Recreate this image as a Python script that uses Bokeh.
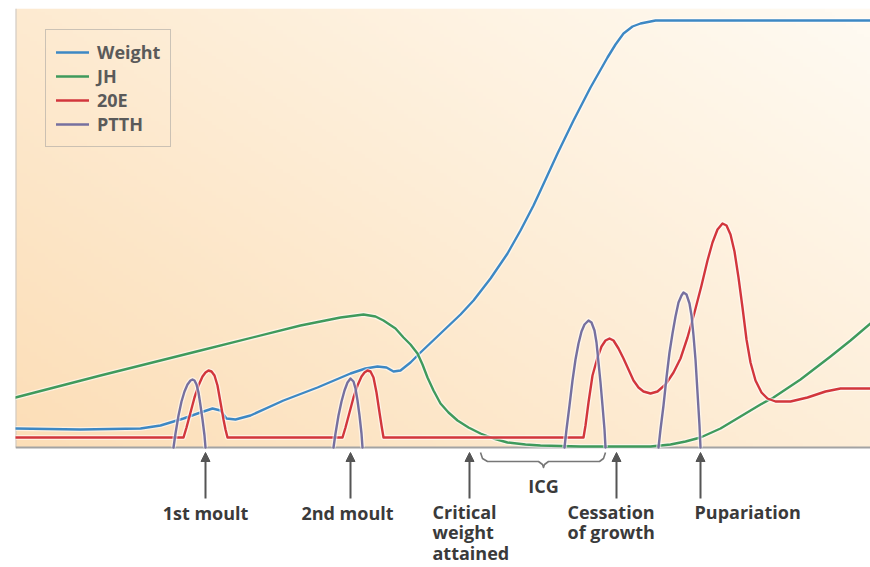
import numpy as np
from bokeh.plotting import figure
from bokeh.models import Range1d, Legend, LegendItem, Arrow, NormalHead, ColumnDataSource
from bokeh.embed import file_html
from bokeh.resources import INLINE
from bokeh.core.properties import value

nan = float("nan")

# ---------------- data (schematic time axis, arbitrary level units) ----------------
weight_t = [0, 65, 125, 145, 168, 185, 197, 205, 211, 220, 235, 268, 302, 335, 350, 362,
            371, 378, 385, 395, 405, 425, 445, 458, 475, 492, 505, 518, 525, 542, 558,
            575, 592, 600, 608, 617, 625, 640, 655, 855]
weight_v = [19, 18, 19, 22, 29, 35, 39, 37, 29, 28, 32, 47, 60, 74, 79, 81,
            80, 76, 77, 85, 95, 114, 133, 147, 169, 194, 217, 242, 257, 294, 327,
            360, 390, 403, 414, 421, 424, 427, 427, 427]

jh_t = [0, 85, 185, 285, 325, 348, 360, 368, 380, 388, 395, 402, 407, 412, 418, 425,
        433, 442, 453, 465, 478, 492, 510, 525, 565, 635, 655, 670, 685, 705, 725,
        745, 758, 785, 815, 835, 855]
jh_v = [50, 72, 97, 122, 130, 133, 131, 127, 119, 110, 103, 94, 83, 70, 57, 44,
        35, 27, 20, 14, 9, 5, 3, 2, 1, 1, 3, 6, 10, 19, 31,
        43, 50, 68, 91, 107, 124]

e20_t = [0, 168, 171, 175, 179, 183, 187, 190, 193, 196, 199, 202, 205, 208, 210, 212,
         327, 330, 334, 338, 342, 346, 349, 352, 355, 358, 361, 364, 366, 368,
         568, 570, 573, 577, 582, 586, 590, 594, 598, 603, 608, 613, 618, 623, 628, 635,
         642, 650, 658, 665, 672, 679, 686, 692, 697, 702, 707, 711, 715, 719, 723, 727,
         731, 735, 740, 746, 752, 760, 775, 792, 810, 825, 855]
e20_v = [10, 10, 20, 35, 50, 62, 71, 75, 77, 76, 72, 62, 45, 28, 18, 10,
         10, 20, 35, 50, 62, 71, 75, 77, 76, 70, 55, 35, 22, 10,
         10, 22, 45, 72, 90, 101, 107, 109, 107, 99, 89, 78, 67, 60, 56, 54,
         56, 63, 75, 89, 110, 135, 162, 187, 205, 218, 224, 222, 213, 196, 170, 140,
         108, 85, 67, 55, 49, 46, 46, 50, 56, 59, 59]

ptth_t = [158, 160, 163, 166, 169, 172, 175, 177, 179, 181, 183, 185, 187, 189, 190, nan,
          318, 320, 323, 326, 329, 332, 335, 338, 340, 342, 344, 346, 347, nan,
          549, 551, 554, 557, 560, 563, 566, 569, 573, 576, 579, 581, 583, 585, 587, 589, 590, nan,
          643, 645, 648, 651, 654, 657, 660, 663, 666, 668, 671, 674, 676, 678, 680, 682, 684, 685]
ptth_v = [0, 14, 32, 46, 56, 63, 67, 68, 67, 63, 55, 42, 28, 12, 0, nan,
          0, 14, 32, 46, 57, 65, 69, 66, 59, 47, 32, 14, 0, nan,
          0, 18, 42, 67, 88, 104, 116, 123, 127, 125, 117, 105, 85, 65, 42, 18, 0, nan,
          0, 18, 42, 70, 95, 114, 131, 145, 152, 155, 153, 144, 132, 112, 88, 55, 22, 0]

series_names = ["Weight", "JH", "20E", "PTTH"]
series_colors = ["#3d88c4", "#3f9a5c", "#d2363c", "#76709f"]

event_t = [190, 335, 454, 601, 685]
event_labels = ["1st moult", "2nd moult", "Critical\nweight\nattained",
                "Cessation\nof growth", "Pupariation"]
icg_label = "ICG"

# ---------------- figure ----------------
p = figure(width=870, height=567, output_backend="svg", toolbar_location=None,
           x_range=Range1d(0, 855), y_range=Range1d(-120, 439),
           x_axis_type=None, y_axis_type=None,
           min_border_left=15, min_border_right=0, min_border_top=8, min_border_bottom=0)
p.grid.visible = False
p.outline_line_color = None
p.background_fill_color = "white"
p.border_fill_color = "white"

# gradient background of the plotting region
ny, nx = 120, 240
gx = np.linspace(0, 1, nx)[None, :]
gy = np.linspace(0, 1, ny)[:, None]
tt = np.clip(0.58 * gx + 0.45 * gy, 0, 1)
c0 = np.array([252, 222, 183])
c1 = np.array([255, 250, 241])
img = np.empty((ny, nx), dtype=np.uint32)
view = img.view(dtype=np.uint8).reshape((ny, nx, 4))
for k in range(3):
    view[:, :, k] = (c0[k] + (c1[k] - c0[k]) * tt).astype(np.uint8)
view[:, :, 3] = 255
p.image_rgba(image=[img], x=0, y=0, dw=855, dh=439)

# axes lines
p.line([0, 0], [0, 439], line_color="#c9c6c2", line_width=2)
p.line([0, 855], [0, 0], line_color="#a3a3a3", line_width=2)

renderers = []
for tx, vy, col in [(weight_t, weight_v, series_colors[0]),
                    (jh_t, jh_v, series_colors[1]),
                    (e20_t, e20_v, series_colors[2]),
                    (ptth_t, ptth_v, series_colors[3])]:
    p.line(tx, vy, line_color="white", line_width=5, line_alpha=0.55, line_join="round")
    r = p.line(tx, vy, line_color=col, line_width=2.4, line_join="round", line_cap="round")
    renderers.append(r)

legend = Legend(items=[LegendItem(label=n, renderers=[r]) for n, r in zip(series_names, renderers)],
                location=(30, 420), margin=0, padding=10, spacing=-3,
                glyph_width=33, glyph_height=20, label_height=20, label_standoff=8,
                label_text_font="Open Sans", label_text_font_size="18px",
                label_text_font_style="bold", label_text_color="#5a5a5a",
                border_line_color="#9a9a9a", border_line_width=1,
                background_fill_alpha=0)
p.add_layout(legend)

# event arrows
arrow_src = ColumnDataSource(dict(x0=event_t, y0=[-51] * len(event_t),
                                  x1=event_t, y1=[-5] * len(event_t)))
p.add_layout(Arrow(end=NormalHead(size=9, fill_color="#555555", line_color="#555555"),
                   x_start="x0", y_start="y0", x_end="x1", y_end="y1", source=arrow_src,
                   line_color="#555555", line_width=2))

# event labels
label_x_center = [event_t[0], event_t[1] - 3]
p.text(x=label_x_center, y=[-53, -53], text=event_labels[:2],
       text_font=value("Open Sans"), text_font_size="18px", text_font_style="bold",
       text_color="#3a3a3a", text_align="center", text_baseline="top")
label_x_left = [event_t[2] - 37, event_t[3] - 49, event_t[4] - 6]
p.text(x=label_x_left, y=[-52, -52, -52], text=event_labels[2:],
       text_font=value("Open Sans"), text_font_size="18px", text_font_style="bold",
       text_color="#3a3a3a", text_align="left", text_baseline="top", text_line_height=0.86)

# ICG brace
bx = [465, 467, 472, 523, 527, 528, 529, 533, 584, 588, 590]
by = [-5, -11, -14, -14, -17, -20, -17, -14, -14, -11, -5]
p.line(bx, by, line_color="#777777", line_width=1.6, line_join="round")
p.text(x=[528], y=[-38], text=[icg_label], text_font=value("Open Sans"),
       text_font_size="18px", text_font_style="bold", text_color="#3a3a3a",
       text_align="center", text_baseline="middle")

open("out.html", "w").write(file_html(p, INLINE))
